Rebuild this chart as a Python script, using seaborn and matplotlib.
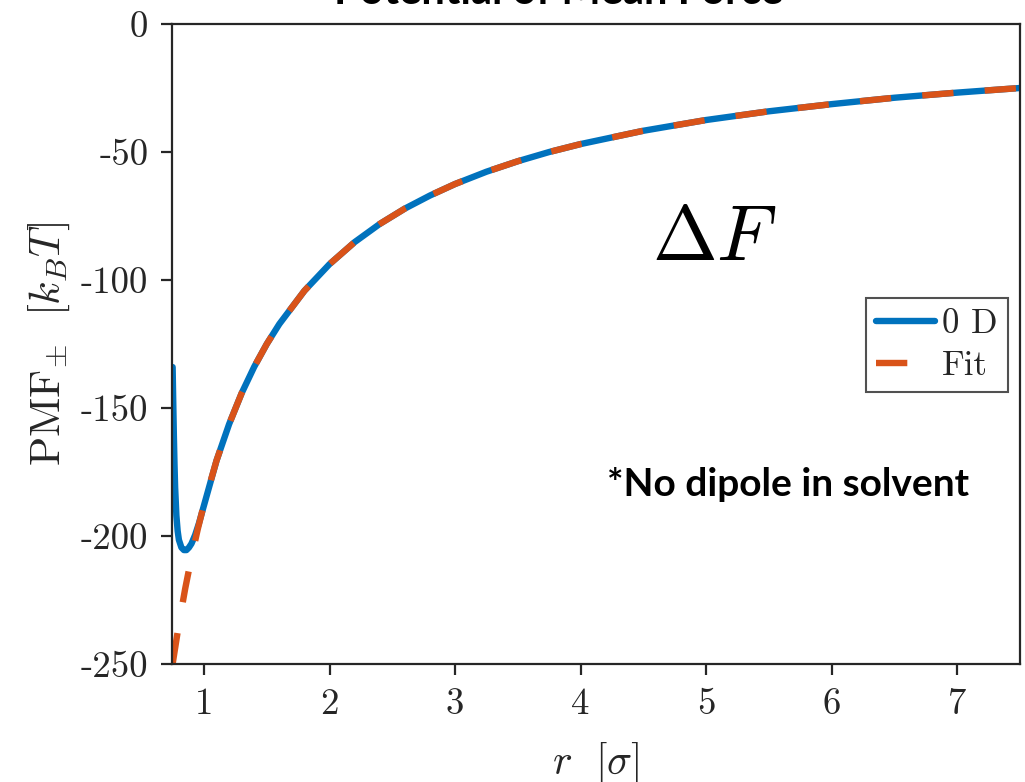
import numpy as np
import pandas as pd
import matplotlib
matplotlib.use('Agg')
import matplotlib.pyplot as plt
import seaborn as sns

# values
r_md = [0.75, 0.755, 0.76, 0.765, 0.77, 0.78, 0.79, 0.80, 0.82, 0.84, 0.86, 0.88, 0.90, 0.93, 0.96,
        1.0, 1.1, 1.2, 1.3, 1.4, 1.5, 1.6, 1.8, 2.0, 2.2, 2.4, 2.6, 2.8, 3.0, 3.25, 3.5, 3.75,
        4.0, 4.5, 5.0, 5.5, 6.0, 6.5, 7.0, 7.5]
pmf_md = [-134, -148, -161, -172, -181, -192, -198, -201.5, -204.5, -205.5, -205.5, -204.5, -203, -199.5, -195,
          -188, -170.5, -156.3, -144.2, -133.9, -125.0, -117.2, -104.2, -93.8, -85.2, -78.1, -72.1, -67.0,
          -62.5, -57.7, -53.6, -50.0, -46.9, -41.7, -37.5, -34.1, -31.3, -28.8, -26.8, -25.0]

r_fit = [0.75, 0.8, 0.85, 0.9, 0.95, 1.0, 1.1, 1.2, 1.3, 1.4, 1.5, 1.6, 1.8, 2.0, 2.2, 2.4, 2.6, 2.8,
         3.0, 3.25, 3.5, 3.75, 4.0, 4.5, 5.0, 5.5, 6.0, 6.5, 7.0, 7.5]
pmf_fit = [-250.0, -234.4, -220.6, -208.3, -197.4, -187.5, -170.5, -156.3, -144.2, -133.9, -125.0,
           -117.2, -104.2, -93.8, -85.2, -78.1, -72.1, -67.0, -62.5, -57.7, -53.6, -50.0, -46.9,
           -41.7, -37.5, -34.1, -31.3, -28.8, -26.8, -25.0]

x_ticks = [1, 2, 3, 4, 5, 6, 7]
y_ticks = [0, -50, -100, -150, -200, -250]
y_tick_labels = ['0', '-50', '-100', '-150', '-200', '-250']

sns.set_theme(style='ticks')
plt.rcParams['mathtext.fontset'] = 'cm'
plt.rcParams['axes.unicode_minus'] = False
plt.rcParams['axes.edgecolor'] = '#262626'
plt.rcParams['axes.linewidth'] = 1.6
plt.rcParams['text.color'] = 'black'
plt.rcParams['axes.labelcolor'] = 'black'

fig = plt.figure(figsize=(10.25, 7.82), dpi=100)
ax = fig.add_axes([0.1678, 0.1509, 0.8273, 0.8184])

blue = '#0072BD'
orange = '#D95319'
sns.lineplot(x=r_md, y=pmf_md, ax=ax, color=blue, linewidth=4.6, label='0 D', estimator=None, sort=False)
sns.lineplot(x=r_fit, y=pmf_fit, ax=ax, color=orange, linewidth=4.6, label='Fit', estimator=None, sort=False)
ax.lines[1].set_dashes((4.9, 4.9))
ax.lines[1].set_dash_capstyle('butt')

ax.set_xlim(0.745, 7.5)
ax.set_ylim(-250, 0)

cm_font = dict(family='cmr10', size=26.5)
ax.set_xticks(x_ticks)
ax.set_xticklabels([str(t) for t in x_ticks], fontdict=cm_font)
ax.set_yticks(y_ticks)
ax.set_yticklabels(y_tick_labels, fontdict=cm_font)
ax.tick_params(axis='both', direction='out', length=8, width=1.6, color='#262626', pad=9,
               labelcolor='#262626', top=False, right=False)
for s in ax.spines.values():
    s.set_visible(True)
    s.set_color('#262626')

ax.set_xlabel(r'$r\ \ [\sigma]$', fontsize=30, labelpad=14, color='#262626')
ax.set_ylabel(r'$\mathrm{PMF}_{\pm}\ \ [k_B T]$', fontsize=31, labelpad=6, color='#262626')

leg = ax.legend(loc='upper left', bbox_to_anchor=(0.818, 0.572), borderaxespad=0,
                prop=dict(family='cmr10', size=25), frameon=True, fancybox=False,
                edgecolor='#262626', handlelength=1.7, handletextpad=0.2, labelspacing=0.3,
                borderpad=0.3)
leg.get_frame().set_linewidth(1.5)
for t in leg.get_texts():
    t.set_color('#262626')

ax.text(0.64, 0.665, r'$\Delta F$', transform=ax.transAxes, fontsize=56, ha='center', va='center',
        color='black')

fig.text(607 / 1025, 1 - 496 / 782, '*No dipole in solvent', family='Lato', weight='bold',
         fontsize=28, ha='left', va='baseline', color='black')
fig.text(559 / 1025, 1 - 4 / 782, 'Potential of Mean Force', family='Lato', weight='bold',
         fontsize=30, ha='center', va='baseline', color='black')

fig.savefig('out.png', dpi=100)
